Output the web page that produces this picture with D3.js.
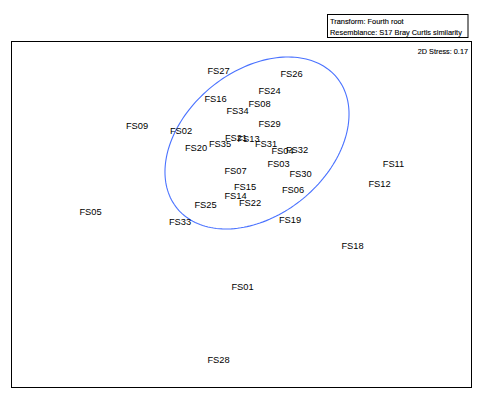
<!DOCTYPE html>
<html>
<head>
<meta charset="utf-8">
<script src="https://cdn.jsdelivr.net/npm/d3@7"></script>
<style>
  html, body { margin: 0; padding: 0; background: #fff; }
  svg { display: block; }
</style>
</head>
<body>
<svg id="chart" width="481" height="398"></svg>
<script>
// ---- Data: 2D MDS coordinates (arbitrary units) ----
const samples = ["FS27","FS26","FS24","FS16","FS08","FS34","FS09","FS02","FS29","FS21","FS13","FS35","FS31","FS20","FS04","FS32","FS03","FS11","FS07","FS30","FS15","FS12","FS06","FS14","FS22","FS25","FS05","FS33","FS19","FS18","FS01","FS28"];
const mdsX = [-0.23, 0.50, 0.28, -0.26, 0.18, -0.04, -1.045, -0.605, 0.28, -0.055, 0.07, -0.215, 0.245, -0.455, 0.41, 0.555, 0.37, 1.52, -0.06, 0.59, 0.035, 1.38, 0.515, -0.06, 0.085, -0.36, -1.51, -0.615, 0.485, 1.11, 0.01, -0.23];
const mdsY = [1.44, 1.41, 1.235, 1.16, 1.11, 1.035, 0.885, 0.835, 0.905, 0.77, 0.76, 0.705, 0.705, 0.665, 0.64, 0.645, 0.51, 0.51, 0.435, 0.41, 0.28, 0.305, 0.245, 0.19, 0.115, 0.095, 0.03, -0.07, -0.05, -0.31, -0.72, -1.45];

// cluster ellipse: centre, semi-axes and rotation (degrees)
const ellipseCentre = [0.155, 0.715];
const ellipseAxes = [1.032, 0.722];
const ellipseAngle = [39.3];

const legendLines = ["Transform: Fourth root", "Resemblance: S17 Bray Curtis similarity"];
const stressLabel = ["2D Stress: 0.17"];

// ---- Layout ----
const svg = d3.select("#chart");
const frame = {left: 11.5, right: 471.5, top: 41.5, bottom: 387.5};

const x = d3.scaleLinear().domain([-2.3, 2.3]).range([frame.left, frame.right]);
const y = d3.scaleLinear().domain([-1.73, 1.73]).range([frame.bottom, frame.top]);

// plot frame
svg.append("rect")
  .attr("x", frame.left).attr("y", frame.top)
  .attr("width", frame.right - frame.left).attr("height", frame.bottom - frame.top)
  .attr("fill", "none").attr("stroke", "#000").attr("stroke-width", 1);

// legend box
svg.append("rect")
  .attr("x", 327.5).attr("y", 14.5).attr("width", 140.5).attr("height", 23)
  .attr("fill", "#fff").attr("stroke", "#000").attr("stroke-width", 1);

svg.selectAll("text.legend").data(legendLines).enter().append("text")
  .attr("class", "legend")
  .attr("x", 330)
  .attr("y", (d, i) => 23.5 + i * 11)
  .attr("font-family", "'Liberation Sans', Arial, sans-serif")
  .attr("font-size", 7.4)
  .attr("fill", "#000")
  .attr("stroke", "#000").attr("stroke-width", 0.12)
  .text(d => d);

svg.append("text")
  .attr("x", 468).attr("y", 53.5)
  .attr("text-anchor", "end")
  .attr("font-family", "'Liberation Sans', Arial, sans-serif")
  .attr("font-size", 7.3)
  .attr("fill", "#000")
  .attr("stroke", "#000").attr("stroke-width", 0.12)
  .text(stressLabel[0]);

// ellipse drawn in data space through the scales
const theta = ellipseAngle[0] * Math.PI / 180;
const ellPts = d3.range(0, 361, 2).map(deg => {
  const t = deg * Math.PI / 180;
  const ex = ellipseAxes[0] * Math.cos(t), ey = ellipseAxes[1] * Math.sin(t);
  return [ellipseCentre[0] + ex * Math.cos(theta) - ey * Math.sin(theta),
          ellipseCentre[1] + ex * Math.sin(theta) + ey * Math.cos(theta)];
});
svg.append("path")
  .attr("d", d3.line().x(d => x(d[0])).y(d => y(d[1])).curve(d3.curveLinearClosed)(ellPts))
  .attr("fill", "none")
  .attr("stroke", "#4a72ff")
  .attr("stroke-width", 1.1);

// sample labels (centred on each sample's ordination position)
svg.selectAll("text.sample").data(samples).enter().append("text")
  .attr("class", "sample")
  .attr("x", (d, i) => x(mdsX[i]))
  .attr("y", (d, i) => y(mdsY[i]))
  .attr("dy", "0.36em")
  .attr("text-anchor", "middle")
  .attr("font-family", "'Liberation Sans', Arial, sans-serif")
  .attr("font-size", 9.3)
  .attr("fill", "#000")
  .text(d => d);
</script>
</body>
</html>
